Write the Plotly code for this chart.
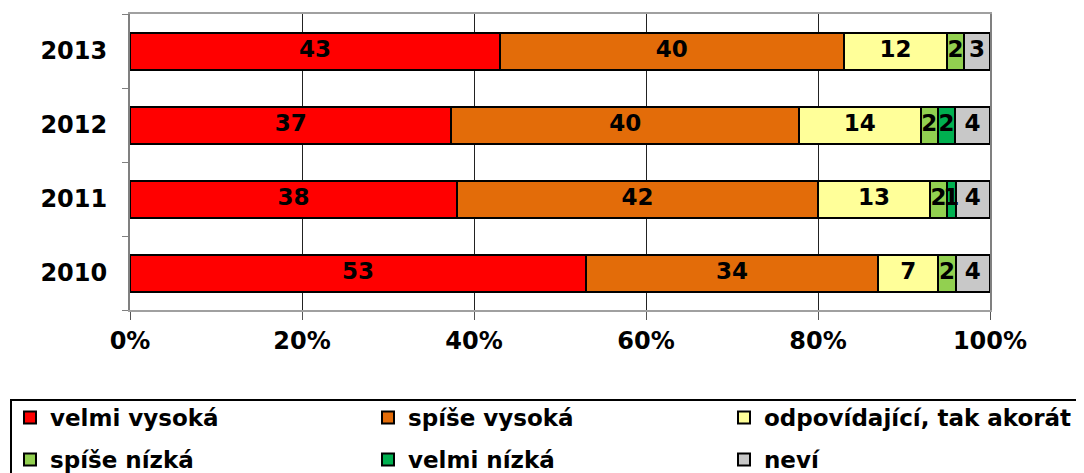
import plotly.graph_objects as go

years = ["2010", "2011", "2012", "2013"]
series_names = ["velmi vysoká", "spíše vysoká", "odpovídající, tak akorát",
                "spíše nízká", "velmi nízká", "neví"]
velmi_vysoka = [53, 38, 37, 43]
spise_vysoka = [34, 42, 40, 40]
odpovidajici = [7, 13, 14, 12]
spise_nizka = [2, 2, 2, 2]
velmi_nizka = [0, 1, 2, 0]
nevi = [4, 4, 4, 3]
x_ticks = [0, 20, 40, 60, 80, 100]
x_tick_labels = ["0%", "20%", "40%", "60%", "80%", "100%"]

colors = ["#FF0000", "#E36C09", "#FFFF99", "#92D050", "#00B050", "#C8C8C8"]
series = [velmi_vysoka, spise_vysoka, odpovidajici, spise_nizka, velmi_nizka, nevi]

FONT = "DejaVu Sans"
W, H = 1084, 473
OFF = 8  # page body margin
L, R, T, B = 130 - OFF, 94 + OFF, 14 - OFF, 163 + OFF

legend_ids = ["legend", "legend2", "legend3", "legend4", "legend5", "legend6"]
# legend entry anchor positions in figure pixels (left, top)
leg_pos = [(2, 388), (360, 388), (716, 388), (2, 430), (360, 430), (716, 430)]

fig = go.Figure()
for i, (name, vals) in enumerate(zip(series_names, series)):
    fig.add_trace(go.Bar(
        y=years, x=vals, name="<b>%s</b>" % name, orientation="h",
        marker=dict(color=colors[i], line=dict(color="black", width=2)),
        legend=legend_ids[i], hoverinfo="skip",
    ))

# data labels at segment centres (normalised to 100 %)
totals = [sum(s[j] for s in series) for j in range(len(years))]
lx, ly, lt = [], [], []
for j, yr in enumerate(years):
    cum = 0
    for s in series:
        v = s[j]
        if v > 0:
            lx.append((cum + v / 2) / totals[j] * 100)
            ly.append(yr)
            lt.append(str(v))
        cum += v
fig.add_trace(go.Scatter(x=lx, y=ly, text=lt, mode="text", showlegend=False,
                         textfont=dict(family=FONT, size=23, color="black"),
                         texttemplate="<b>%{text}</b>", cliponaxis=False,
                         hoverinfo="skip"))

legends = {}
for k, lid in enumerate(legend_ids):
    x0, y0 = leg_pos[k]
    legends[lid] = dict(orientation="h", xref="container", yref="container",
                        x=x0 / W, y=1 - y0 / H, xanchor="left", yanchor="top",
                        font=dict(size=23, family=FONT, color="black"),
                        bgcolor="rgba(0,0,0,0)", borderwidth=0)

PW, PH = W - L - R, H - T - B
fig.update_layout(
    width=W, height=H,
    margin=dict(l=L, r=R, t=T, b=B, autoexpand=False),
    barmode="stack", barnorm="percent", bargap=0.5,
    plot_bgcolor="white", paper_bgcolor="white",
    font=dict(family=FONT, color="black"),
    xaxis=dict(range=[0, 100], tickvals=x_ticks,
               ticktext=["<b>%s</b>" % t for t in x_tick_labels],
               tickfont=dict(size=24, family=FONT), showgrid=True,
               gridcolor="#222222", gridwidth=1, zeroline=False,
               showline=True, linecolor="#A0A0A0", linewidth=2, mirror=True,
               ticks="outside", ticklen=8, tickcolor="#555555", tickwidth=1),
    yaxis=dict(type="category", categoryorder="array", categoryarray=years,
               tickvals=years, ticktext=["<b>%s</b>" % y for y in years],
               tickfont=dict(size=24, family=FONT), showgrid=False,
               showline=True, linecolor="#808080", linewidth=2, mirror=True,
               ticks="outside", ticklen=6, tickcolor="#808080", tickson="boundaries",
               ticklabelstandoff=16),
    shapes=[dict(type="rect", xref="paper", yref="paper",
                 x0=(3 - L) / PW, x1=(1090 - L) / PW,
                 y0=(H - B - 392) / PH, y1=(H - B - 480) / PH,
                 line=dict(color="black", width=2))],
    **legends,
)

fig.write_html("out.html")
